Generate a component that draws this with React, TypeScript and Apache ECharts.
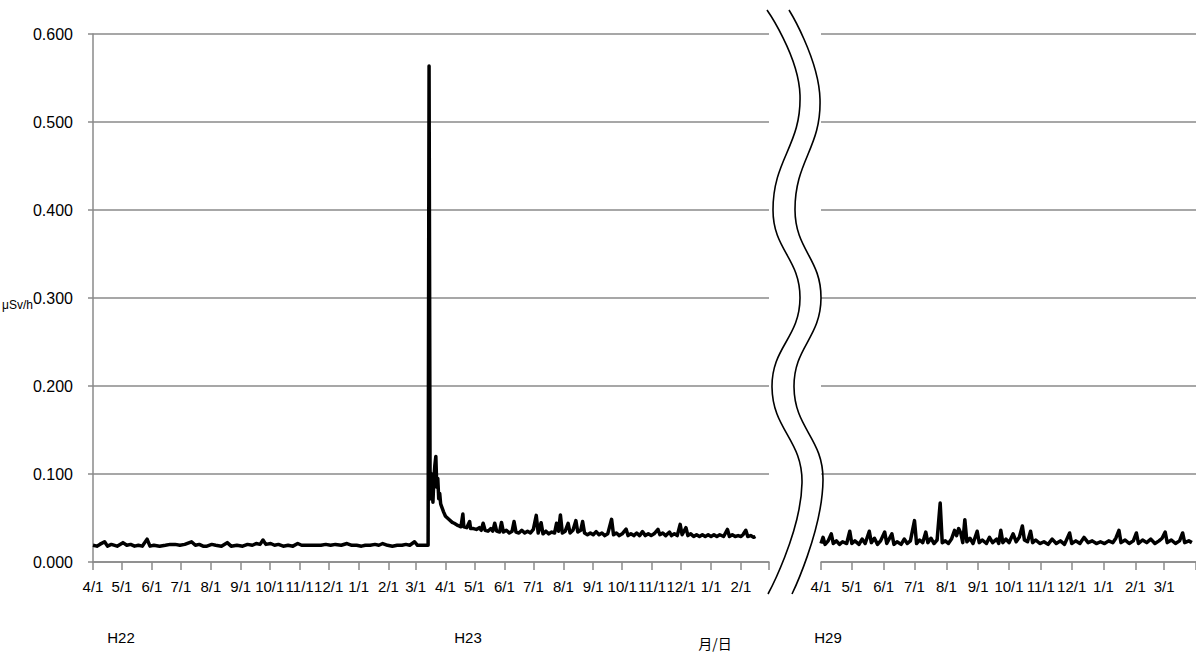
import React, { useEffect, useRef } from "react";
import * as echarts from "echarts";

// ---- data ----
const rangeA = ["2010-04-01", "2012-03-01"]; // left panel (H22-H23)
const rangeB = ["2017-04-01", "2018-04-01"]; // right panel (H29)

const yTicks = [0, 0.1, 0.2, 0.3, 0.4, 0.5, 0.6];

// H22 (before the accident)
const h22: [string, number][] = [
  ["2010-04-01", 0.019], ["2010-04-05", 0.018], ["2010-04-08", 0.020], ["2010-04-13", 0.023],
  ["2010-04-16", 0.018], ["2010-04-20", 0.020], ["2010-04-26", 0.018], ["2010-05-02", 0.022],
  ["2010-05-06", 0.019], ["2010-05-10", 0.020], ["2010-05-14", 0.018], ["2010-05-18", 0.019],
  ["2010-05-22", 0.018], ["2010-05-27", 0.026], ["2010-05-30", 0.018], ["2010-06-03", 0.019],
  ["2010-06-09", 0.018], ["2010-06-15", 0.019], ["2010-06-20", 0.020], ["2010-06-25", 0.020],
  ["2010-06-30", 0.019], ["2010-07-05", 0.020], ["2010-07-12", 0.023], ["2010-07-16", 0.019],
  ["2010-07-20", 0.020], ["2010-07-24", 0.018], ["2010-07-28", 0.018], ["2010-08-02", 0.020],
  ["2010-08-06", 0.019], ["2010-08-12", 0.018], ["2010-08-18", 0.022], ["2010-08-22", 0.018],
  ["2010-08-28", 0.019], ["2010-09-03", 0.018], ["2010-09-08", 0.020], ["2010-09-13", 0.019],
  ["2010-09-17", 0.021], ["2010-09-21", 0.020], ["2010-09-24", 0.025], ["2010-09-27", 0.020],
  ["2010-10-02", 0.021], ["2010-10-06", 0.019], ["2010-10-10", 0.020], ["2010-10-15", 0.018],
  ["2010-10-20", 0.019], ["2010-10-25", 0.018], ["2010-10-30", 0.021], ["2010-11-03", 0.019],
  ["2010-11-08", 0.019], ["2010-11-13", 0.019], ["2010-11-18", 0.019], ["2010-11-23", 0.019],
  ["2010-11-28", 0.020], ["2010-12-03", 0.019], ["2010-12-08", 0.020], ["2010-12-14", 0.019],
  ["2010-12-20", 0.021], ["2010-12-25", 0.019], ["2010-12-30", 0.019], ["2011-01-04", 0.018],
  ["2011-01-08", 0.019], ["2011-01-13", 0.019], ["2011-01-18", 0.020], ["2011-01-22", 0.019],
  ["2011-01-26", 0.021], ["2011-01-31", 0.019], ["2011-02-05", 0.018], ["2011-02-10", 0.019],
  ["2011-02-15", 0.019], ["2011-02-19", 0.020], ["2011-02-23", 0.019], ["2011-02-28", 0.023],
  ["2011-03-03", 0.019], ["2011-03-08", 0.019], ["2011-03-14", 0.019],
];

// H23 (accident in March 2011 and after)
const h23: [string, number][] = [
  ["2011-03-15", 0.5636], ["2011-03-16", 0.105], ["2011-03-17", 0.072], ["2011-03-18", 0.100],
  ["2011-03-19", 0.068], ["2011-03-20", 0.095], ["2011-03-21", 0.110], ["2011-03-22", 0.120],
  ["2011-03-23", 0.085], ["2011-03-24", 0.095], ["2011-03-25", 0.072], ["2011-03-26", 0.078],
  ["2011-03-27", 0.066], ["2011-03-28", 0.063], ["2011-03-30", 0.057], ["2011-04-01", 0.052],
  ["2011-04-03", 0.050], ["2011-04-05", 0.048], ["2011-04-08", 0.045], ["2011-04-10", 0.044],
  ["2011-04-13", 0.042], ["2011-04-15", 0.041], ["2011-04-17", 0.040], ["2011-04-19", 0.0545],
  ["2011-04-20", 0.040], ["2011-04-23", 0.039], ["2011-04-26", 0.046], ["2011-04-27", 0.038],
  ["2011-04-30", 0.038], ["2011-05-03", 0.037], ["2011-05-06", 0.039], ["2011-05-08", 0.036],
  ["2011-05-10", 0.044], ["2011-05-12", 0.036], ["2011-05-15", 0.035], ["2011-05-18", 0.038],
  ["2011-05-20", 0.035], ["2011-05-22", 0.044], ["2011-05-24", 0.035], ["2011-05-27", 0.034],
  ["2011-05-29", 0.045], ["2011-05-31", 0.034], ["2011-06-03", 0.036], ["2011-06-06", 0.033],
  ["2011-06-09", 0.035], ["2011-06-11", 0.046], ["2011-06-13", 0.034], ["2011-06-16", 0.033],
  ["2011-06-19", 0.036], ["2011-06-22", 0.033], ["2011-06-25", 0.035], ["2011-06-28", 0.033],
  ["2011-07-01", 0.037], ["2011-07-04", 0.053], ["2011-07-06", 0.033], ["2011-07-09", 0.0447],
  ["2011-07-11", 0.032], ["2011-07-14", 0.035], ["2011-07-17", 0.032], ["2011-07-20", 0.034],
  ["2011-07-23", 0.033], ["2011-07-25", 0.044], ["2011-07-27", 0.035], ["2011-07-29", 0.0534],
  ["2011-07-31", 0.033], ["2011-08-03", 0.035], ["2011-08-06", 0.044], ["2011-08-08", 0.033],
  ["2011-08-11", 0.036], ["2011-08-14", 0.047], ["2011-08-16", 0.034], ["2011-08-19", 0.036],
  ["2011-08-21", 0.046], ["2011-08-23", 0.033], ["2011-08-26", 0.031], ["2011-08-29", 0.033],
  ["2011-09-01", 0.031], ["2011-09-04", 0.0345], ["2011-09-07", 0.031], ["2011-09-10", 0.033],
  ["2011-09-13", 0.030], ["2011-09-16", 0.032], ["2011-09-20", 0.0485], ["2011-09-22", 0.031],
  ["2011-09-25", 0.033], ["2011-09-28", 0.030], ["2011-10-01", 0.032], ["2011-10-05", 0.0375],
  ["2011-10-07", 0.030], ["2011-10-10", 0.032], ["2011-10-13", 0.030], ["2011-10-16", 0.033],
  ["2011-10-19", 0.030], ["2011-10-22", 0.0345], ["2011-10-25", 0.030], ["2011-10-28", 0.032],
  ["2011-10-31", 0.030], ["2011-11-03", 0.032], ["2011-11-07", 0.037], ["2011-11-09", 0.031],
  ["2011-11-12", 0.033], ["2011-11-15", 0.030], ["2011-11-19", 0.034], ["2011-11-21", 0.030],
  ["2011-11-24", 0.032], ["2011-11-27", 0.030], ["2011-11-30", 0.0428], ["2011-12-02", 0.031],
  ["2011-12-06", 0.039], ["2011-12-08", 0.030], ["2011-12-11", 0.032], ["2011-12-14", 0.029],
  ["2011-12-17", 0.031], ["2011-12-20", 0.029], ["2011-12-23", 0.031], ["2011-12-26", 0.029],
  ["2011-12-29", 0.031], ["2012-01-01", 0.029], ["2012-01-04", 0.031], ["2012-01-07", 0.029],
  ["2012-01-10", 0.031], ["2012-01-14", 0.029], ["2012-01-18", 0.037], ["2012-01-20", 0.029],
  ["2012-01-23", 0.031], ["2012-01-26", 0.029], ["2012-01-29", 0.030], ["2012-02-01", 0.029],
  ["2012-02-03", 0.031], ["2012-02-06", 0.036], ["2012-02-08", 0.029], ["2012-02-11", 0.030],
  ["2012-02-14", 0.028], ["2012-02-16", 0.029],
];

// H29
const h29: [string, number][] = [
  ["2017-04-01", 0.021], ["2017-04-03", 0.028], ["2017-04-05", 0.020], ["2017-04-08", 0.024],
  ["2017-04-11", 0.032], ["2017-04-13", 0.021], ["2017-04-16", 0.024], ["2017-04-19", 0.020],
  ["2017-04-22", 0.023], ["2017-04-26", 0.021], ["2017-04-29", 0.035], ["2017-05-01", 0.021],
  ["2017-05-04", 0.024], ["2017-05-08", 0.020], ["2017-05-11", 0.026], ["2017-05-14", 0.021],
  ["2017-05-18", 0.035], ["2017-05-20", 0.022], ["2017-05-23", 0.027], ["2017-05-26", 0.020],
  ["2017-05-29", 0.024], ["2017-06-02", 0.034], ["2017-06-04", 0.021], ["2017-06-09", 0.032],
  ["2017-06-11", 0.020], ["2017-06-14", 0.023], ["2017-06-18", 0.020], ["2017-06-21", 0.026],
  ["2017-06-24", 0.021], ["2017-06-27", 0.024], ["2017-07-01", 0.047], ["2017-07-03", 0.021],
  ["2017-07-06", 0.025], ["2017-07-09", 0.022], ["2017-07-12", 0.034], ["2017-07-14", 0.022],
  ["2017-07-17", 0.027], ["2017-07-20", 0.021], ["2017-07-23", 0.025], ["2017-07-26", 0.067],
  ["2017-07-28", 0.022], ["2017-07-31", 0.024], ["2017-08-03", 0.021], ["2017-08-06", 0.026],
  ["2017-08-09", 0.036], ["2017-08-11", 0.030], ["2017-08-13", 0.038], ["2017-08-15", 0.033],
  ["2017-08-17", 0.022], ["2017-08-19", 0.048], ["2017-08-21", 0.023], ["2017-08-24", 0.027],
  ["2017-08-27", 0.021], ["2017-08-31", 0.035], ["2017-09-02", 0.022], ["2017-09-05", 0.025],
  ["2017-09-09", 0.021], ["2017-09-12", 0.028], ["2017-09-15", 0.022], ["2017-09-19", 0.026],
  ["2017-09-21", 0.021], ["2017-09-23", 0.036], ["2017-09-25", 0.022], ["2017-09-28", 0.026],
  ["2017-10-01", 0.022], ["2017-10-05", 0.032], ["2017-10-08", 0.023], ["2017-10-11", 0.028],
  ["2017-10-14", 0.041], ["2017-10-16", 0.025], ["2017-10-19", 0.023], ["2017-10-22", 0.035],
  ["2017-10-24", 0.022], ["2017-10-27", 0.025], ["2017-10-31", 0.021], ["2017-11-04", 0.023],
  ["2017-11-08", 0.020], ["2017-11-12", 0.026], ["2017-11-16", 0.021], ["2017-11-20", 0.024],
  ["2017-11-24", 0.020], ["2017-11-29", 0.033], ["2017-12-01", 0.021], ["2017-12-05", 0.024],
  ["2017-12-09", 0.021], ["2017-12-13", 0.028], ["2017-12-17", 0.022], ["2017-12-21", 0.024],
  ["2017-12-25", 0.021], ["2017-12-29", 0.023], ["2018-01-02", 0.021], ["2018-01-06", 0.024],
  ["2018-01-10", 0.022], ["2018-01-13", 0.027], ["2018-01-16", 0.036], ["2018-01-18", 0.022],
  ["2018-01-22", 0.025], ["2018-01-26", 0.021], ["2018-01-30", 0.024], ["2018-02-02", 0.033],
  ["2018-02-04", 0.021], ["2018-02-08", 0.025], ["2018-02-12", 0.022], ["2018-02-16", 0.026],
  ["2018-02-20", 0.021], ["2018-02-24", 0.024], ["2018-02-27", 0.027], ["2018-03-02", 0.034],
  ["2018-03-04", 0.022], ["2018-03-08", 0.025], ["2018-03-12", 0.021], ["2018-03-16", 0.024],
  ["2018-03-19", 0.033], ["2018-03-21", 0.022], ["2018-03-25", 0.024], ["2018-03-28", 0.022],
];

const periodLabels = ["H22", "H23", "H29"];
const unitLabel = "μSv/h";
const dateAxisLabel = "月/日";

// ---- helpers ----
function dayList(from: string, to: string): string[] {
  const out: string[] = [];
  const d = new Date(from + "T00:00:00Z");
  const end = new Date(to + "T00:00:00Z").getTime();
  while (d.getTime() <= end) {
    out.push(d.toISOString().slice(0, 10));
    d.setUTCDate(d.getUTCDate() + 1);
  }
  return out;
}

const FONT = "'Liberation Sans', Arial, sans-serif";
const GRAY = "#8a8a8a";

export default function App() {
  const ref = useRef<HTMLDivElement>(null);
  useEffect(() => {
    if (!ref.current) return;
    const chart = echarts.init(ref.current, undefined, { renderer: "svg" });
    const daysA = dayList(rangeA[0], rangeA[1]);
    const daysB = dayList(rangeB[0], rangeB[1]);
    const isMonthStart = (v: string) => v.slice(8, 10) === "01";
    const monthLabel = (v: string) => `${parseInt(v.slice(5, 7), 10)}/1`;

    const makeX = (days: string[], gridIndex: number) => ({
      type: "category",
      gridIndex,
      data: days,
      boundaryGap: false,
      axisLine: { show: true, lineStyle: { color: GRAY, width: 1.5 } },
      axisTick: {
        show: true,
        length: 8,
        interval: (_i: number, v: string) => isMonthStart(v),
        lineStyle: { color: GRAY, width: 1.5 },
      },
      axisLabel: {
        interval: (i: number, v: string) => isMonthStart(v) && i < days.length - 1,
        formatter: (v: string) => monthLabel(v),
        fontFamily: FONT,
        fontSize: 15,
        color: "#000",
        margin: 17,
      },
      splitLine: { show: false },
    });

    const makeY = (gridIndex: number, showAxis: boolean) => ({
      type: "value",
      gridIndex,
      min: yTicks[0],
      max: yTicks[yTicks.length - 1],
      interval: 0.1,
      axisLine: { show: showAxis, lineStyle: { color: GRAY, width: 1.5 } },
      axisTick: { show: showAxis, length: 5, lineStyle: { color: GRAY, width: 1.5 } },
      axisLabel: {
        show: showAxis,
        formatter: (v: number) => v.toFixed(3),
        fontFamily: FONT,
        fontSize: 16,
        color: "#000",
        margin: 20,
      },
      splitLine: { show: true, lineStyle: { color: GRAY, width: 1.5 } },
    });

    const lineStyle = { color: "#000", width: 3.5, join: "round" };

    const waveLeft = [
      [767, 10], [800, 95], [773, 210], [800, 298], [772, 387], [802, 483], [768, 594],
    ];
    const waveRight = [
      [789, 10], [820, 99], [795, 210], [821, 298], [794, 387], [823, 480], [792, 594],
    ];

    const label = (text: string, x: number, y: number, size: number, family = FONT) => ({
      type: "text",
      x,
      y,
      style: { text, fontFamily: family, fontSize: size, fill: "#000", align: "center", verticalAlign: "middle" },
    });

    chart.setOption({
      animation: false,
      backgroundColor: "#fff",
      grid: [
        { left: 93, top: 34, width: 676, height: 528 },
        { left: 821, top: 34, width: 375, height: 528 },
      ],
      xAxis: [makeX(daysA, 0), makeX(daysB, 1)],
      yAxis: [makeY(0, true), makeY(1, false)],
      series: [
        {
          type: "line",
          xAxisIndex: 0,
          yAxisIndex: 0,
          data: [...h22, ...h23],
          showSymbol: false,
          symbol: "none",
          lineStyle,
          silent: true,
        },
        {
          type: "line",
          xAxisIndex: 1,
          yAxisIndex: 1,
          data: h29,
          showSymbol: false,
          symbol: "none",
          lineStyle,
          silent: true,
        },
      ],
      graphic: [
        {
          type: "polyline",
          shape: { points: waveLeft, smooth: 0.45 },
          style: { stroke: "#000", lineWidth: 1.6, fill: null },
          z: 100,
        },
        {
          type: "polyline",
          shape: { points: waveRight, smooth: 0.45 },
          style: { stroke: "#000", lineWidth: 1.6, fill: null },
          z: 100,
        },
        {
          type: "text",
          x: 2,
          y: 305,
          style: { text: unitLabel, fontFamily: FONT, fontSize: 12, fill: "#000", align: "left", verticalAlign: "middle" },
        },
        label(periodLabels[0], 121, 637, 15),
        label(periodLabels[1], 468, 637, 15),
        label(dateAxisLabel, 715, 643, 14, "'Noto Sans CJK JP', sans-serif"),
        label(periodLabels[2], 828, 637, 15),
      ],
    });
    return () => chart.dispose();
  }, []);
  return (
    <div
      ref={ref}
      style={{ position: "absolute", left: 0, top: 0, width: 1196, height: 653 }}
    />
  );
}
